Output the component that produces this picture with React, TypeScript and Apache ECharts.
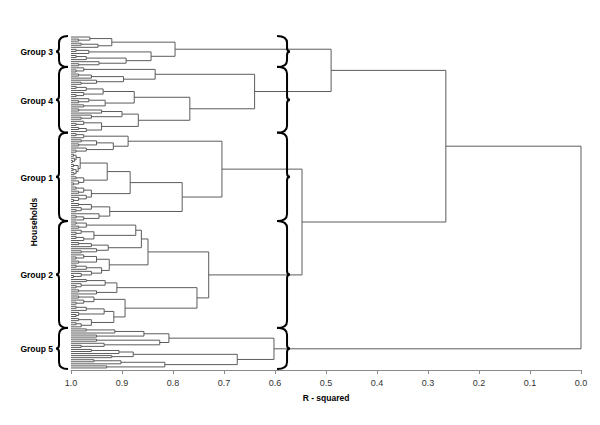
import React, { useEffect, useRef } from "react";
import * as echarts from "echarts";

// Dendrogram data. A leaf (household) is 0; an internal node is
// [R-squared at which the two children merge, upper child, lower child].
const group3Tree: any = [0.796,
  [0.92, [0.963, 0, [0.985, 0, 0]], [0.947, [0.98, 0, 0], 0]],
  [0.843, [0.965, [0.99, 0, 0], 0], [0.892, [0.97, [0.99, 0, 0], 0], [0.945, 0, [0.985, 0, 0]]]],
];

const group4Tree: any = [0.64,
  [0.835, [0.975, 0, [0.99, 0, 0]], [0.897, [0.96, [0.985, 0, 0], 0], [0.95, 0, [0.98, 0, 0]]]],
  [0.767,
    [0.876, [0.937, [0.97, [0.99, 0, 0], 0], [0.975, 0, [0.99, 0, 0]]], [0.933, [0.965, 0, [0.985, 0, 0]], [0.975, 0, 0]]],
    [0.868, [0.9, [0.94, [0.985, 0, 0], 0], [0.96, 0, [0.98, 0, 0]]], [0.94, [0.975, 0, [0.99, 0, 0]], [0.97, [0.985, 0, 0], 0]]],
  ],
];

const group1Tree: any = [0.704,
  [0.888, [0.975, [0.99, 0, 0], 0], [0.917, [0.95, [0.98, 0, 0], [0.985, 0, 0]], [0.97, 0, [0.99, 0, 0]]]],
  [0.782,
    [0.884,
      [0.929,
        [0.982, [0.99, [0.995, 0, 0], [0.993, 0, [0.997, 0, 0]]], [0.986, [0.995, 0, 0], [0.99, [0.996, 0, 0], [0.994, 0, 0]]]],
        [0.975, [0.99, 0, 0], [0.985, 0, [0.995, 0, 0]]],
      ],
      [0.96, [0.975, [0.99, 0, 0], [0.985, 0, 0]], [0.97, 0, [0.985, 0, [0.995, 0, 0]]]],
    ],
    [0.924, [0.96, [0.985, 0, 0], [0.98, 0, [0.99, 0, 0]]], [0.945, 0, [0.975, [0.99, 0, 0], 0]]],
  ],
];

const group2Tree: any = [0.73,
  [0.849,
    [0.862,
      [0.873, [0.97, [0.99, 0, 0], [0.985, 0, 0]], [0.955, [0.98, 0, [0.99, 0, 0]], [0.975, [0.99, 0, 0], 0]]],
      [0.927, [0.96, [0.985, 0, 0], 0], [0.95, 0, [0.98, 0, 0]]],
    ],
    [0.925, [0.95, [0.975, 0, [0.99, 0, 0]], [0.985, 0, 0]], [0.94, [0.97, [0.99, 0, 0], 0], [0.96, 0, [0.98, 0, [0.995, 0, 0]]]]],
  ],
  [0.753,
    [0.91, [0.933, [0.97, 0, 0], [0.98, 0, [0.99, 0, 0]]], [0.95, [0.985, 0, 0], 0]],
    [0.894,
      [0.955, [0.985, 0, 0], [0.975, 0, [0.99, 0, 0]]],
      [0.916, [0.935, [0.97, [0.99, 0, 0], 0], [0.985, 0, [0.99, 0, 0]]], [0.96, [0.985, 0, 0], [0.98, [0.99, 0, 0], 0]]],
    ],
  ],
];

const group5Tree: any = [0.602,
  [0.808,
    [0.857, [0.914, [0.97, 0, 0], 0], [0.95, 0, 0]],
    [0.826, [0.95, 0, 0], [0.935, 0, [0.98, 0, 0]]],
  ],
  [0.674,
    [0.878, [0.906, [0.96, 0, 0], 0], [0.92, 0, 0]],
    [0.816, [0.902, [0.955, 0, 0], 0], [0.93, 0, 0]],
  ],
];

// Higher-level merges between the groups
const mergeGroups3and4 = 0.49;
const mergeGroups1and2 = 0.547;
const mergeUpperBlock = 0.265;
const mergeRoot = 0.0;

const groupTrees = [group3Tree, group4Tree, group1Tree, group2Tree, group5Tree];
const groupNames = ["Group 3", "Group 4", "Group 1", "Group 2", "Group 5"];

const FONT = '"Liberation Sans", Arial, sans-serif';

function countLeaves(n: any): number {
  return n === 0 ? 1 : countLeaves(n[1]) + countLeaves(n[2]);
}

function buildDendrogram() {
  const links: number[][][] = [];
  let leaf = 0;
  const walk = (n: any): { h: number; y: number } => {
    if (n === 0) {
      const y = leaf++;
      return { h: 1, y };
    }
    const a = walk(n[1]);
    const b = walk(n[2]);
    const h = n[0];
    links.push([[a.h, a.y], [h, a.y], [h, b.y], [b.h, b.y]]);
    return { h, y: (a.y + b.y) / 2 };
  };
  const root = [mergeRoot,
    [mergeUpperBlock, [mergeGroups3and4, group3Tree, group4Tree], [mergeGroups1and2, group1Tree, group2Tree]],
    group5Tree];
  walk(root);
  const ranges: number[][] = [];
  let start = 0;
  groupTrees.forEach((t, i) => {
    const c = countLeaves(t);
    ranges.push([start, start + c - 1, i]);
    start += c;
  });
  return { links, ranges, nLeaves: leaf };
}

function bracePath(xEnd: number, xLine: number, xTip: number, yTop: number, yBot: number) {
  const yMid = (yTop + yBot) / 2;
  const r = 7;
  const c = 3.5;
  const k = xEnd + (xLine - xEnd) * 0.6;
  return [
    `M${xEnd} ${yTop}`,
    `C${k} ${yTop} ${xLine} ${yTop + r * 0.35} ${xLine} ${yTop + r}`,
    `L${xLine} ${yMid - c}`,
    `C${xLine} ${yMid - c * 0.3} ${xLine + (xTip - xLine) * 0.4} ${yMid} ${xTip} ${yMid}`,
    `C${xLine + (xTip - xLine) * 0.4} ${yMid} ${xLine} ${yMid + c * 0.3} ${xLine} ${yMid + c}`,
    `L${xLine} ${yBot - r}`,
    `C${xLine} ${yBot - r * 0.35} ${k} ${yBot} ${xEnd} ${yBot}`,
  ].join(" ");
}

export default function App() {
  const ref = useRef<HTMLDivElement>(null);
  useEffect(() => {
    if (!ref.current) return;
    const chart = echarts.init(ref.current, null, { renderer: "svg" });
    const { links, ranges, nLeaves } = buildDendrogram();

    const braceRender = (params: any, api: any) => {
      const first = api.value(0);
      const last = api.value(1);
      const idx = api.value(2);
      const yTop = api.coord([1, first - 0.55])[1];
      const yBot = api.coord([1, last + 0.55])[1];
      const yMid = (yTop + yBot) / 2;
      const x0 = api.coord([1, 0])[0];
      const dl = bracePath(x0 - 3, x0 - 12, x0 - 15, yTop, yBot);
      const rEnd = api.coord([0.596, 0])[0];
      const dr = bracePath(rEnd, rEnd + 10, rEnd + 13, yTop, yBot);
      const bStyle = { stroke: "#000", lineWidth: 2, fill: "none" };
      return {
        type: "group",
        children: [
          { type: "path", shape: { pathData: dl }, style: bStyle },
          { type: "path", shape: { pathData: dr }, style: bStyle },
          {
            type: "text",
            x: x0 - 18,
            y: yMid + 1,
            style: {
              text: groupNames[idx],
              align: "right",
              verticalAlign: "middle",
              fontSize: 8.5,
              fontWeight: "bold",
              fontFamily: FONT,
              fill: "#000",
            },
          },
        ],
      };
    };

    chart.setOption({
      animation: false,
      backgroundColor: "#fff",
      grid: { left: 71, right: 19, top: 36, bottom: 55 },
      xAxis: {
        type: "value",
        min: 0,
        max: 1,
        interval: 0.1,
        inverse: true,
        position: "bottom",
        name: "R - squared",
        nameLocation: "middle",
        nameGap: 23,
        nameTextStyle: { fontSize: 8.5, fontWeight: "bold", color: "#000", fontFamily: FONT },
        axisLine: { onZero: false, lineStyle: { color: "#8a8a8a", width: 1 } },
        axisTick: { length: 4, lineStyle: { color: "#8a8a8a" } },
        axisLabel: {
          fontSize: 9,
          color: "#333",
          fontFamily: FONT,
          margin: 8,
          formatter: (v: number) => v.toFixed(1),
        },
        splitLine: { show: false },
      },
      yAxis: {
        type: "value",
        inverse: true,
        min: -0.5,
        max: nLeaves,
        show: false,
      },
      graphic: [
        {
          type: "text",
          x: 34,
          y: 222,
          rotation: Math.PI / 2,
          style: {
            text: "Households",
            align: "center",
            verticalAlign: "middle",
            fontSize: 8.5,
            fontWeight: "bold",
            fontFamily: FONT,
            fill: "#000",
          },
        },
      ],
      series: [
        {
          type: "lines",
          coordinateSystem: "cartesian2d",
          polyline: true,
          silent: true,
          lineStyle: { color: "#5c5c5c", width: 1, opacity: 1 },
          data: links.map((c) => ({ coords: c })),
        },
        {
          type: "custom",
          silent: true,
          clip: false,
          renderItem: braceRender,
          data: ranges,
        },
      ],
    });
    return () => chart.dispose();
  }, []);
  return (
    <div
      ref={ref}
      style={{ position: "fixed", left: 0, top: 0, width: 600, height: 425, background: "#fff" }}
    />
  );
}
